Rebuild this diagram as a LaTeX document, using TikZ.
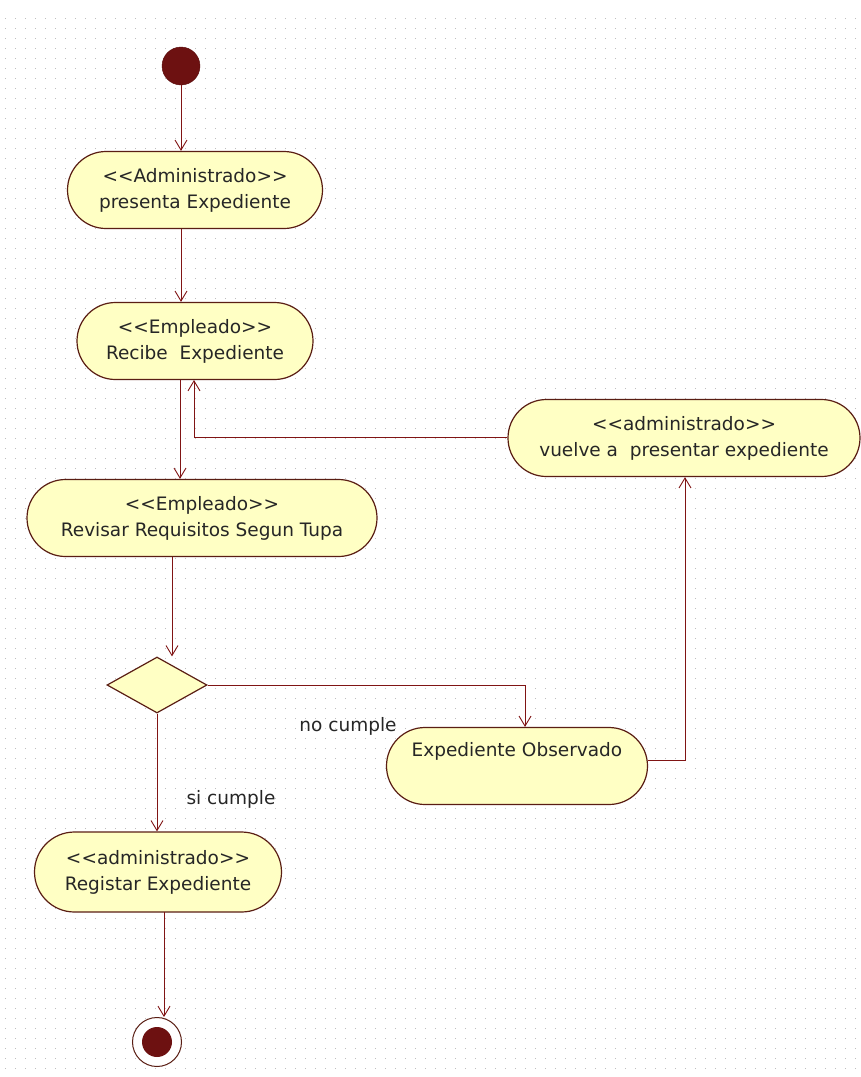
\documentclass[tikz,border=0pt]{standalone}
\usepackage{fontspec}
\setmainfont{DejaVu Sans}
\usetikzlibrary{arrows.meta,shapes.geometric,shapes.misc}
\definecolor{actfill}{RGB}{255,255,196}
\definecolor{actline}{RGB}{90,30,20}
\definecolor{flow}{RGB}{128,20,20}
\definecolor{dotc}{RGB}{190,190,190}
\tikzset{
  activity/.style={rounded rectangle, draw=actline, fill=actfill, line width=1.2pt,
    inner sep=0pt, align=center, font=\fontsize{18.5}{26}\selectfont, text=black!85},
  flowline/.style={draw=flow, line width=1pt, -{Straight Barb[length=10pt,width=12pt,line width=0.9pt]}},
  guard/.style={font=\fontsize{18.5}{22}\selectfont, text=black!85, inner sep=0pt},
}
\begin{document}
\begin{tikzpicture}[x=1pt,y=-1pt]
\useasboundingbox (0,0) rectangle (861,1077);
\fill[white] (0,0) rectangle (861,1077);
% dotted drawing grid
\foreach \i in {0,...,85}{
  \foreach \j in {2,...,107}{
    \fill[dotc] (\i*10+5,\j*10-2) rectangle ++(1.3,1.3);
  }
}
% initial node
\node[circle, fill=flow!85!black, draw=flow!70!black, minimum size=38pt, inner sep=0pt] (start) at (181,66) {};
% activities
\node[activity, minimum width=255pt, minimum height=77pt] (a1) at (195,190) {<{}<Administrado>{}>\\presenta Expediente};
\node[activity, minimum width=236pt, minimum height=77pt] (a2) at (195,341) {<{}<Empleado>{}>\\Recibe\ \ Expediente};
\node[activity, minimum width=350pt, minimum height=77pt] (a3) at (202,518) {<{}<Empleado>{}>\\Revisar Requisitos Segun Tupa};
\node[activity, minimum width=352pt, minimum height=77pt] (a4) at (684,438) {<{}<administrado>{}>\\vuelve a\ \ presentar expediente};
\node[activity, minimum width=261pt, minimum height=77pt] (a5) at (517,766) {Expediente Observado\\\strut};
\node[activity, minimum width=247pt, minimum height=80pt] (a6) at (158,872) {<{}<administrado>{}>\\Registar Expediente};
% decision
\node[diamond, draw=actline, fill=actfill, line width=1.2pt, minimum width=100pt, minimum height=56pt, inner sep=0pt, aspect=1.8] (dec) at (157,685) {};
% final node
\node[circle, draw=actline, line width=1pt, fill=white, minimum size=49pt, inner sep=0pt] (end) at (157,1042) {};
\node[circle, fill=flow!85!black, minimum size=30pt, inner sep=0pt] (endin) at (end.center) {};
% control flows
\draw[flowline] (start.south) -- (start.south |- a1.north);
\draw[flowline] (181,229) coordinate (a1b) -- (a1b |- a2.north);
\draw[flowline] (180,380) coordinate (a2b) -- (a2b |- a3.north);
\draw[flowline] (172,557) coordinate (a3b) -- (a3b |- dec.north);
\draw[flowline] (dec.east) -| (a5.north -| 525,0);
\draw[flowline] (a5.east |- 0,760) -| (a4.south -| 685,0);
\draw[flowline] (a4.west |- 0,437) -| (194,380);
\draw[flowline] (dec.south) -- (dec.south |- a6.north);
\draw[flowline] (164,912) coordinate (a6b) -- (a6b |- end.north);
% guards
\node[guard] (nc) at (348,726) {no cumple};
\node[guard] (sc) at (231,799) {si cumple};
\end{tikzpicture}
\end{document}
